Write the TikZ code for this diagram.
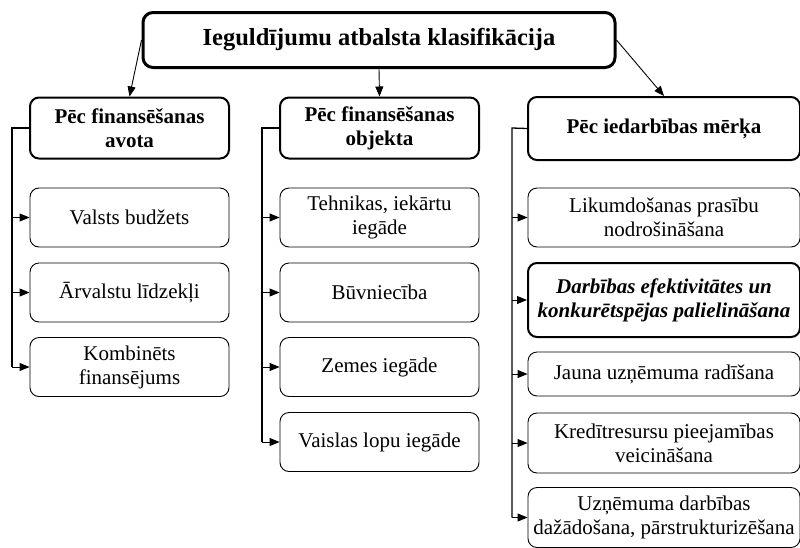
\documentclass[tikz,border=0pt]{standalone}
\usepackage{fontspec}
\setmainfont{Liberation Serif}
\usetikzlibrary{arrows.meta}
\begin{document}
\begin{tikzpicture}[x=1pt,y=-1pt,
  every node/.style={inner sep=2pt, align=center, font=\fontsize{21pt}{24pt}\selectfont},
  titlebox/.style={draw, line width=3pt, rounded corners=10pt, minimum width=472pt, minimum height=55pt,
    font=\fontsize{24.5pt}{28pt}\selectfont\bfseries},
  headbox/.style={draw, line width=2pt, rounded corners=9pt, minimum height=61pt, font=\fontsize{21pt}{24pt}\selectfont\bfseries},
  itembox/.style={draw, line width=0.9pt, rounded corners=9pt},
  boldbox/.style={draw, line width=2pt, rounded corners=9pt, font=\fontsize{21pt}{24pt}\selectfont\bfseries\itshape},
  arr/.style={line width=0.9pt, -{Triangle[length=10pt,width=8pt]}},
  brk/.style={line width=1.3pt}
]
\useasboundingbox (0,0) rectangle (800,547);

\node[titlebox] (T) at (379,40) {Ieguldījumu atbalsta klasifikācija};

% left column
\node[headbox, minimum width=199pt] (L0) at (129.5,128) {Pēc finansēšanas\\avota};
\node[itembox, minimum width=199pt, minimum height=59pt] (L1) at (129.5,217.5) {Valsts budžets};
\node[itembox, minimum width=199pt, minimum height=59pt] (L2) at (129.5,292.5) {Ārvalstu līdzekļi};
\node[itembox, minimum width=199pt, minimum height=59pt] (L3) at (129.5,367) {Kombinēts\\finansējums};

% middle column
\node[headbox, minimum width=199pt] (M0) at (379.5,128) {Pēc finansēšanas\\objekta};
\node[itembox, minimum width=199pt, minimum height=59pt] (M1) at (379.5,217.5) {Tehnikas, iekārtu\\iegāde};
\node[itembox, minimum width=199pt, minimum height=59pt] (M2) at (379.5,292.5) {Būvniecība};
\node[itembox, minimum width=199pt, minimum height=59pt] (M3) at (379.5,367) {Zemes iegāde};
\node[itembox, minimum width=199pt, minimum height=59pt] (M4) at (379.5,442) {Vaislas lopu iegāde};

% right column
\node[headbox, minimum width=272pt, minimum height=63pt] (R0) at (664,128.5) {Pēc iedarbības mērķa};
\node[itembox, minimum width=272pt, minimum height=59pt] (R1) at (664,217.5) {Likumdošanas prasību\\nodrošināšana};
\node[boldbox, minimum width=272pt, minimum height=74pt] (R2) at (664,300) {Darbības efektivitātes un\\konkurētspējas palielināšana};
\node[itembox, minimum width=272pt, minimum height=44pt] (R3) at (664,374) {Jauna uzņēmuma radīšana};
\node[itembox, minimum width=272pt, minimum height=60pt] (R4) at (664,443) {Kredītresursu pieejamības\\veicināšana};
\node[itembox, minimum width=272pt, minimum height=60pt] (R5) at (664,517.5) {Uzņēmuma darbības\\dažādošana, pārstrukturizēšana};

% top arrows
\draw[arr] (T.west) -- (L0.north);
\draw[arr] (T.south) -- (M0.north);
\draw[arr] (T.east) -- (R0.north);

% brackets
\coordinate (Lb) at (12,128);
\coordinate (Mb) at (262,128);
\coordinate (Rb) at (512,128);

\draw[brk] (L0.west) -- (Lb) -- (Lb |- L3.west);
\foreach \n in {L1,L2,L3} \draw[arr] (Lb |- \n.west) -- (\n.west);

\draw[brk] (M0.west) -- (Mb) -- (Mb |- M4.west);
\foreach \n in {M1,M2,M3,M4} \draw[arr] (Mb |- \n.west) -- (\n.west);

\draw[brk] (R0.west) -- (Rb) -- (Rb |- R5.west);
\foreach \n in {R1,R2,R3,R4,R5} \draw[arr] (Rb |- \n.west) -- (\n.west);
\end{tikzpicture}
\end{document}
